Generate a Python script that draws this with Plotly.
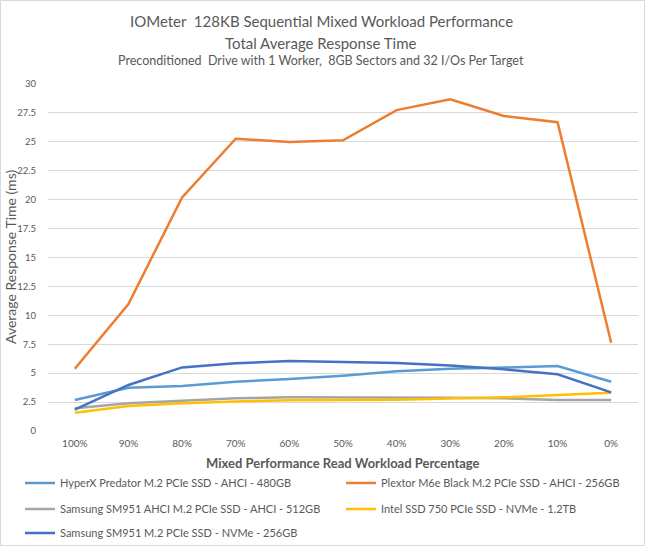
import plotly.graph_objects as go

categories = ["100%", "90%", "80%", "70%", "60%", "50%", "40%", "30%", "20%", "10%", "0%"]

hyperx = [2.68, 3.74, 3.89, 4.26, 4.49, 4.78, 5.16, 5.39, 5.48, 5.62, 4.26]
plextor = [5.38, 10.98, 20.2, 25.27, 24.98, 25.13, 27.74, 28.67, 27.23, 26.7, 7.63]
sm951_ahci = [1.96, 2.39, 2.62, 2.83, 2.91, 2.91, 2.91, 2.88, 2.83, 2.68, 2.68]
intel750 = [1.58, 2.16, 2.39, 2.56, 2.65, 2.65, 2.71, 2.80, 2.91, 3.11, 3.31]
sm951_nvme = [1.84, 3.98, 5.5, 5.85, 6.05, 5.94, 5.88, 5.67, 5.33, 4.9, 3.34]

series_names = [
    "HyperX Predator M.2 PCIe SSD - AHCI - 480GB",
    "Plextor M6e Black M.2 PCIe SSD - AHCI - 256GB",
    "Samsung SM951 AHCI M.2 PCIe SSD - AHCI - 512GB",
    "Intel SSD 750 PCIe SSD - NVMe - 1.2TB",
    "Samsung SM951 M.2 PCIe SSD - NVMe - 256GB",
]
series_values = [hyperx, plextor, sm951_ahci, intel750, sm951_nvme]
series_colors = ["#5B9BD5", "#ED7D31", "#A5A5A5", "#FFC000", "#4472C4"]
series_legends = ["legend", "legend", "legend2", "legend2", "legend3"]

y_ticks = [0, 2.5, 5, 7.5, 10, 12.5, 15, 17.5, 20, 22.5, 25, 27.5, 30]
y_tick_labels = ["0", "2.5", "5", "7.5", "10", "12.5", "15", "17.5", "20", "22.5", "25", "27.5", "30"]

FONT = "Lato"
GREY = "#595959"

W, H = 645, 546
ML, MR, MT, MB = 48, 7, 84, 115
PW, PH = W - ML - MR, H - MT - MB


def px_x(x):
    return (x - ML) / PW


def px_y(y):
    return (H - MB - y) / PH


fig = go.Figure()
for name, vals, col, lg in zip(series_names, series_values, series_colors, series_legends):
    fig.add_trace(go.Scatter(
        x=categories, y=vals, name=name, mode="lines",
        line=dict(color=col, width=2.5), legend=lg,
    ))

legend_common = dict(
    orientation="h", xanchor="left", yanchor="middle",
    font=dict(family=FONT, size=11, color=GREY),
    bgcolor="rgba(0,0,0,0)", entrywidth=276, entrywidthmode="pixels",
    itemwidth=30,
)

fig.update_layout(
    width=W, height=H,
    margin=dict(l=ML, r=MR, t=MT, b=MB, autoexpand=False),
    paper_bgcolor="white", plot_bgcolor="white",
    font=dict(family=FONT, color=GREY),
    showlegend=True,
    legend=dict(x=px_x(20), y=px_y(483), **legend_common),
    legend2=dict(x=px_x(20), y=px_y(509), **legend_common),
    legend3=dict(x=px_x(20), y=px_y(533), **legend_common),
    xaxis=dict(
        type="category", range=[-0.5, 10.5], showgrid=False, showline=False, zeroline=False,
        tickfont=dict(family=FONT, size=10, color=GREY), ticks="",
        ticklabelstandoff=5,
    ),
    yaxis=dict(
        range=[0, 30], tickvals=y_ticks, ticktext=y_tick_labels,
        showgrid=True, gridcolor="#D9D9D9", gridwidth=1, zeroline=False,
        showline=False, ticks="",
        tickfont=dict(family=FONT, size=9.5, color=GREY),
        ticklabelstandoff=11,
    ),
    hovermode=False,
)

annotations = [
    dict(text="IOMeter  128KB Sequential Mixed Workload Performance", x=px_x(321), y=px_y(21),
         font=dict(size=15, color=GREY, family=FONT)),
    dict(text="Total Average Response Time", x=px_x(321), y=px_y(43),
         font=dict(size=15, color=GREY, family=FONT)),
    dict(text="Preconditioned  Drive with 1 Worker,  8GB Sectors and 32 I/Os Per Target", x=px_x(321), y=px_y(61),
         font=dict(size=12.5, color=GREY, family=FONT)),
    dict(text="<b>Mixed Performance Read Workload Percentage</b>", x=px_x(343), y=px_y(463),
         font=dict(size=13, color=GREY, family=FONT)),
    dict(text="Average Response Time (ms)", x=px_x(10), y=px_y(257), textangle=-90,
         font=dict(size=14, color=GREY, family=FONT)),
]
for a in annotations:
    fig.add_annotation(xref="paper", yref="paper", showarrow=False,
                       xanchor="center", yanchor="middle", **a)

fig.add_shape(type="rect", xref="paper", yref="paper",
              x0=px_x(0.5), x1=px_x(644.5), y0=px_y(545.5), y1=px_y(0.5),
              line=dict(color="#D9D9D9", width=1), fillcolor="rgba(0,0,0,0)", layer="below")

fig.write_html("out.html", config={"displayModeBar": False},
               post_script="document.body.style.margin='0';")
